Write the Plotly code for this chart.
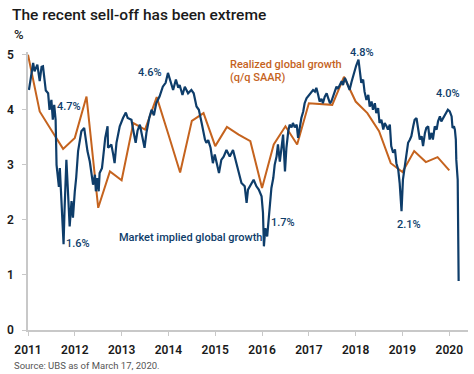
import plotly.graph_objects as go

# Realized global growth (q/q SAAR), quarterly
real_x = [2011.00, 2011.25, 2011.50, 2011.75, 2012.00, 2012.25, 2012.50, 2012.75,
          2013.00, 2013.25, 2013.50, 2013.75, 2014.00, 2014.25, 2014.50, 2014.75,
          2015.00, 2015.25, 2015.50, 2015.75, 2016.00, 2016.25, 2016.50, 2016.75,
          2017.00, 2017.25, 2017.50, 2017.75, 2018.00, 2018.25, 2018.50, 2018.75,
          2019.00, 2019.25, 2019.50, 2019.75, 2020.00]
real_y = [5.00, 3.97, 3.63, 3.29, 3.49, 4.24, 2.22, 2.88,
          2.72, 3.76, 3.64, 4.23, 3.55, 2.86, 3.80, 3.94,
          3.34, 3.69, 3.55, 3.43, 2.58, 3.37, 3.70, 3.37,
          4.12, 4.11, 4.09, 4.60, 4.15, 3.94, 3.61, 3.03,
          2.87, 3.25, 3.05, 3.14, 2.90]

# Market implied global growth
mkt_x = [2011.02, 2011.07, 2011.11, 2011.14, 2011.20, 2011.25, 2011.29, 2011.32, 2011.36, 2011.38,
         2011.43, 2011.46, 2011.50, 2011.53, 2011.56, 2011.59, 2011.61, 2011.63, 2011.66, 2011.68,
         2011.71, 2011.74, 2011.76, 2011.78, 2011.82, 2011.85, 2011.89, 2011.93, 2011.96, 2012.00,
         2012.03, 2012.07, 2012.10, 2012.14, 2012.20, 2012.23, 2012.27, 2012.32, 2012.35, 2012.39,
         2012.43, 2012.45, 2012.48, 2012.51, 2012.53, 2012.58, 2012.60, 2012.62, 2012.65, 2012.70,
         2012.71, 2012.75, 2012.78, 2012.82, 2012.85, 2012.89, 2012.92, 2012.96, 2013.03, 2013.09,
         2013.13, 2013.21, 2013.24, 2013.30, 2013.34, 2013.39, 2013.44, 2013.49, 2013.53, 2013.59,
         2013.64, 2013.69, 2013.74, 2013.81, 2013.88, 2013.94, 2013.99, 2014.03, 2014.06, 2014.10,
         2014.16, 2014.21, 2014.24, 2014.30, 2014.35, 2014.42, 2014.49, 2014.54, 2014.60, 2014.65,
         2014.71, 2014.74, 2014.78, 2014.81, 2014.85, 2014.90, 2014.95, 2014.99, 2015.04, 2015.08,
         2015.13, 2015.18, 2015.24, 2015.31, 2015.38, 2015.45, 2015.51, 2015.56, 2015.63, 2015.67,
         2015.70, 2015.77, 2015.82, 2015.88, 2015.93, 2015.99, 2016.02, 2016.04, 2016.07, 2016.11,
         2016.13, 2016.16, 2016.20, 2016.24, 2016.27, 2016.31, 2016.34, 2016.38, 2016.41, 2016.45,
         2016.49, 2016.52, 2016.56, 2016.59, 2016.63, 2016.66, 2016.70, 2016.74, 2016.77, 2016.81,
         2016.84, 2016.88, 2016.91, 2016.95, 2016.98, 2017.02, 2017.06, 2017.09, 2017.13, 2017.16,
         2017.20, 2017.23, 2017.27, 2017.30, 2017.34, 2017.38, 2017.41, 2017.45, 2017.48, 2017.52,
         2017.55, 2017.59, 2017.62, 2017.66, 2017.70, 2017.73, 2017.77, 2017.80, 2017.84, 2017.87,
         2017.91, 2017.96, 2018.01, 2018.06, 2018.09, 2018.12, 2018.16, 2018.19, 2018.23, 2018.27,
         2018.30, 2018.34, 2018.37, 2018.41, 2018.44, 2018.48, 2018.51, 2018.55, 2018.59, 2018.62,
         2018.66, 2018.69, 2018.73, 2018.76, 2018.80, 2018.84, 2018.87, 2018.91, 2018.94, 2018.98,
         2019.01, 2019.05, 2019.09, 2019.12, 2019.16, 2019.19, 2019.23, 2019.26, 2019.30, 2019.33,
         2019.37, 2019.41, 2019.44, 2019.48, 2019.51, 2019.55, 2019.58, 2019.62, 2019.65, 2019.69,
         2019.73, 2019.76, 2019.80, 2019.83, 2019.87, 2019.90, 2019.94, 2019.97, 2020.01, 2020.05,
         2020.07, 2020.10, 2020.12, 2020.14, 2020.15, 2020.18, 2020.20]
mkt_y = [4.36, 4.67, 4.85, 4.70, 4.82, 4.52, 4.78, 4.79, 4.55, 4.35,
         4.30, 4.00, 4.18, 3.82, 4.09, 3.82, 3.00, 2.85, 2.60, 2.94,
         2.45, 2.04, 1.56, 2.16, 3.09, 2.58, 1.88, 2.34, 2.04, 2.52,
         2.77, 3.25, 3.40, 3.61, 3.67, 3.46, 3.25, 3.06, 2.85, 2.64,
         2.82, 2.52, 2.76, 2.52, 2.85, 2.94, 3.09, 3.25, 3.49, 3.70,
         3.31, 3.34, 3.37, 3.19, 3.03, 3.40, 3.55, 3.70, 3.85, 3.95,
         3.85, 3.82, 3.67, 3.40, 3.62, 3.73, 3.52, 3.31, 3.58, 3.85,
         4.00, 3.90, 4.12, 4.24, 4.42, 4.49, 4.67, 4.55, 4.50, 4.36,
         4.55, 4.40, 4.45, 4.27, 4.42, 4.30, 4.36, 4.30, 4.06, 4.00,
         3.76, 3.60, 3.46, 3.40, 3.45, 3.31, 3.03, 3.19, 2.97, 2.85,
         3.09, 3.15, 3.27, 3.15, 3.27, 3.03, 2.85, 2.67, 2.61, 2.31,
         2.55, 2.67, 2.73, 2.61, 2.55, 2.43, 2.13, 1.52, 1.85, 1.70,
         1.91, 2.28, 2.58, 2.76, 3.00, 3.15, 3.37, 3.06, 3.30, 3.55,
         2.88, 3.30, 3.61, 3.73, 3.68, 3.76, 3.68, 3.73, 3.49, 3.73,
         3.85, 3.97, 4.12, 4.21, 4.24, 4.27, 4.33, 4.36, 4.33, 4.40,
         4.27, 4.15, 4.20, 4.12, 4.24, 4.30, 4.22, 4.12, 4.15, 4.24,
         4.33, 4.42, 4.38, 4.45, 4.52, 4.45, 4.58, 4.52, 4.40, 4.36,
         4.50, 4.67, 4.80, 4.91, 4.70, 4.49, 4.55, 4.33, 4.18, 4.27,
         4.06, 4.15, 4.00, 4.12, 3.94, 4.03, 3.76, 3.82, 3.64, 3.76,
         3.70, 3.64, 3.73, 3.34, 3.22, 3.28, 3.03, 2.91, 2.67, 2.16,
         2.73, 2.97, 3.22, 3.40, 3.46, 3.52, 3.70, 3.82, 3.85, 3.70,
         3.46, 3.52, 3.34, 3.58, 3.67, 3.70, 3.46, 3.58, 3.46, 3.70,
         3.64, 3.79, 3.88, 3.79, 3.85, 3.91, 3.97, 4.00, 3.97, 3.88,
         3.67, 3.70, 3.64, 3.46, 3.09, 2.73, 0.89]

year_ticks = [2011, 2012, 2013, 2014, 2015, 2016, 2017, 2018, 2019, 2020]
y_ticks = [0, 1, 2, 3, 4, 5]

# value labels: (text, x, y)
labels = [("4.7%", 2011.87, 4.06), ("4.6%", 2013.60, 4.67), ("4.8%", 2018.13, 5.05),
          ("4.0%", 2019.97, 4.29), ("1.6%", 2012.06, 1.57), ("1.7%", 2016.44, 1.95),
          ("2.1%", 2019.14, 1.91)]

BLUE = "#0e3d6a"
ORANGE = "#c5631e"
FONT = "Roboto"

fig = go.Figure()
fig.add_trace(go.Scatter(x=real_x, y=real_y, mode="lines",
                         line=dict(color=ORANGE, width=2), hoverinfo="skip"))
fig.add_trace(go.Scatter(x=mkt_x, y=mkt_y, mode="lines",
                         line=dict(color=BLUE, width=2.2), hoverinfo="skip"))

annos = []
for t, x, y in labels:
    annos.append(dict(x=x, y=y, xref="x", yref="y", text=t, showarrow=False,
                      font=dict(family=FONT, size=11, color=BLUE, weight=500),
                      xanchor="center", yanchor="middle"))
annos.append(dict(x=2012.90, y=1.68, xref="x", yref="y", text="Market implied global growth",
                  showarrow=False, xanchor="left", yanchor="middle",
                  font=dict(family=FONT, size=11, color=BLUE, weight=500)))
annos.append(dict(x=2015.27, y=4.82, xref="x", yref="y", text="Realized global growth",
                  showarrow=False, xanchor="left", yanchor="middle",
                  font=dict(family=FONT, size=11, color=ORANGE, weight=500)))
annos.append(dict(x=2015.27, y=4.58, xref="x", yref="y", text="(q/q SAAR)",
                  showarrow=False, xanchor="left", yanchor="middle",
                  font=dict(family=FONT, size=11, color=ORANGE, weight=500)))
annos.append(dict(x=-0.037, y=1.062, xref="paper", yref="paper", text="%",
                  showarrow=False, xanchor="left", yanchor="middle",
                  font=dict(family=FONT, size=13, color="#222", weight=500)))
annos.append(dict(x=-0.037, y=-0.128, xref="paper", yref="paper",
                  text="Source: UBS as of March 17, 2020.",
                  showarrow=False, xanchor="left", yanchor="middle",
                  font=dict(family=FONT, size=9.5, color="#555")))

fig.update_layout(
    width=474, height=374,
    margin=dict(l=28.3, r=5.7, t=52.25, b=43.5),
    paper_bgcolor="white", plot_bgcolor="white",
    showlegend=False,
    title=dict(text="The recent sell-off has been extreme", x=12/474, xanchor="left",
               y=1-15/374, yanchor="middle", xref="container", yref="container",
               font=dict(family=FONT, size=15.5, color="#1a1a1a", weight=500)),
    annotations=annos,
    xaxis=dict(range=[2011, 2020.40], tickvals=year_ticks,
               ticktext=[str(v) for v in year_ticks],
               showgrid=False, zeroline=False, showline=True, linecolor="#c8c8c8",
               linewidth=1.5, ticks="outside", ticklen=4, tickcolor="#c8c8c8",
               tickfont=dict(family=FONT, size=12, color="#1a1a1a", weight=600),
               ticklabelstandoff=4),
    yaxis=dict(range=[0, 5.05], tickvals=y_ticks,
               showgrid=False, zeroline=False, showline=True, linecolor="#c8c8c8",
               linewidth=1.5, ticks="outside", ticklen=4, tickcolor="#c8c8c8",
               tickfont=dict(family=FONT, size=12, color="#1a1a1a", weight=600),
               ticklabelstandoff=6),
)

fig.write_html("out.html", config={"displayModeBar": False},
               post_script="document.body.style.margin='0';")
